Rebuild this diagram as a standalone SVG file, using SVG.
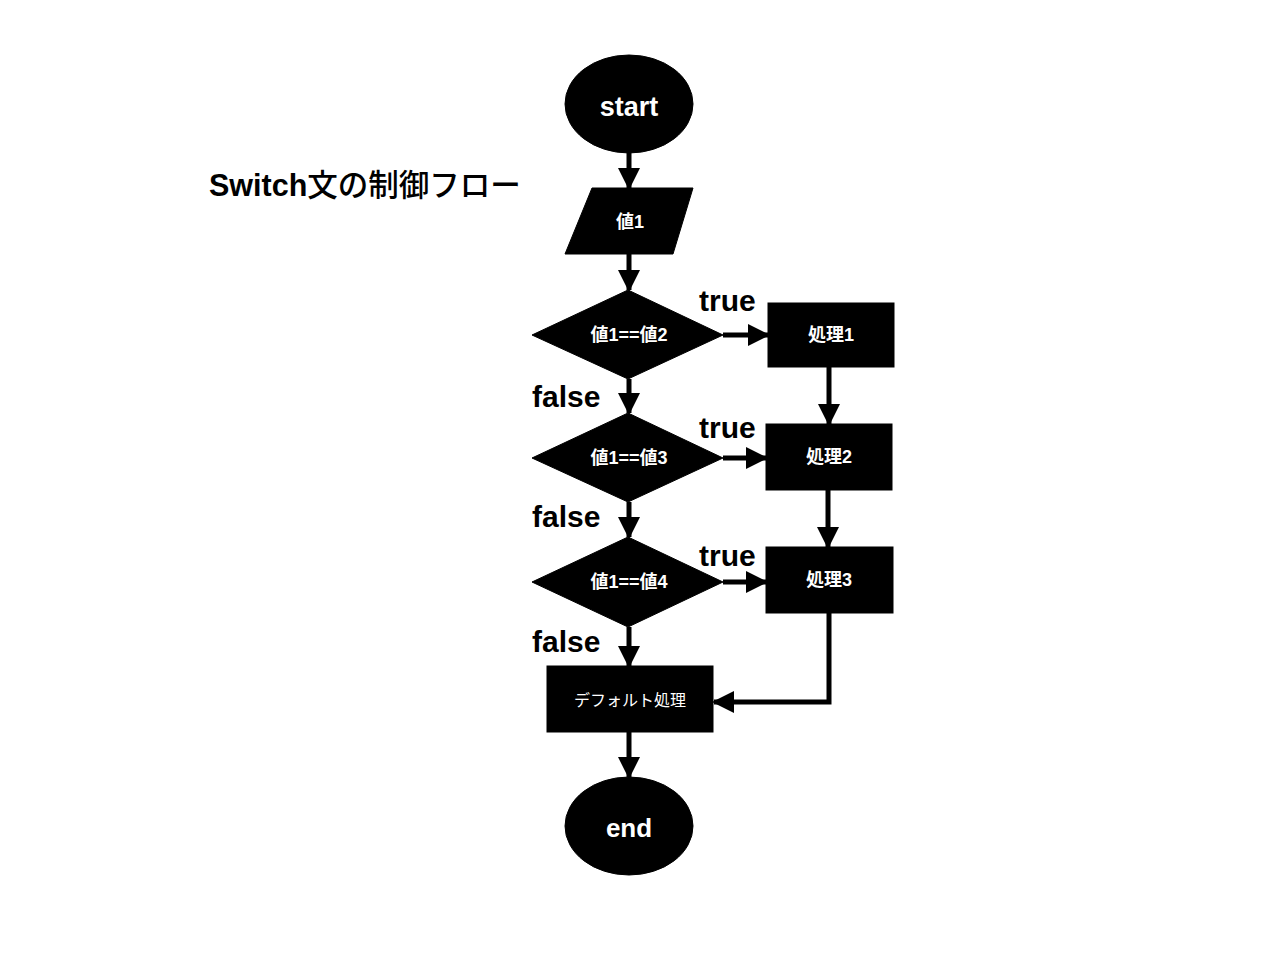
<svg xmlns="http://www.w3.org/2000/svg" width="1280" height="967" viewBox="0 0 1280 967">
<style>
.n{fill:#000;stroke:#000;stroke-width:1}
.t{fill:#fff;font-family:"Liberation Sans","Noto Sans CJK JP",sans-serif;font-weight:bold;text-anchor:middle;dominant-baseline:central}
.lbl{fill:#000;font-family:"Liberation Sans","Noto Sans CJK JP",sans-serif;font-weight:bold;font-size:30px}
.c{fill:none;stroke:#000;stroke-width:5;marker-end:url(#ah)}
</style>
<defs>
<marker id="ah" markerWidth="4.4" markerHeight="4.4" refX="4" refY="2.2" orient="auto" markerUnits="strokeWidth" viewBox="0 0 4.4 4.4">
<path d="M0,0 L4.4,2.2 L0,4.4 Z" fill="#000"/>
</marker>
</defs>
<rect width="1280" height="967" fill="#fff"/>
<text class="lbl" x="209" y="196" style="font-size:30.5px">Switch<tspan style="font-weight:500">文の制御フロー</tspan></text>
<g id="connectors">
<path class="c" d="M629,152 V188"/>
<path class="c" d="M629,254 V290"/>
<path class="c" d="M723,335 H768"/>
<path class="c" d="M829,367 V424"/>
<path class="c" d="M629,379 V413"/>
<path class="c" d="M723,458 H766"/>
<path class="c" d="M828,490 V547"/>
<path class="c" d="M629,502 V537"/>
<path class="c" d="M723,582 H766"/>
<path class="c" d="M629,627 V666"/>
<path class="c" d="M829,613 V702 H714"/>
<path class="c" d="M629,732 V777"/>
</g>
<g id="labels">
<text class="lbl" x="699" y="311">true</text>
<text class="lbl" x="699" y="438">true</text>
<text class="lbl" x="699" y="566">true</text>
<text class="lbl" x="532" y="407">false</text>
<text class="lbl" x="532" y="527">false</text>
<text class="lbl" x="532" y="652">false</text>
</g>
<g id="start"><ellipse class="n" cx="629" cy="104" rx="64" ry="49"/><text class="t" x="629" y="107" font-size="27">start</text></g>
<g id="input"><polygon class="n" points="592,188 693,188 673,254 565,254"/><text class="t" x="630" y="222" font-size="18">値1</text></g>
<g id="cond1"><polygon class="n" points="628,290 723,335 628,379 532,335"/><text class="t" x="629" y="335" font-size="18">値1==値2</text></g>
<g id="cond2"><polygon class="n" points="628,413 723,458 628,502 532,458"/><text class="t" x="629" y="458" font-size="18">値1==値3</text></g>
<g id="cond3"><polygon class="n" points="628,537 723,582 628,627 532,582"/><text class="t" x="629" y="582" font-size="18">値1==値4</text></g>
<g id="proc1"><rect class="n" x="768" y="303" width="126" height="64"/><text class="t" x="831" y="335" font-size="18">処理1</text></g>
<g id="proc2"><rect class="n" x="766" y="424" width="126" height="66"/><text class="t" x="829" y="457" font-size="18">処理2</text></g>
<g id="proc3"><rect class="n" x="766" y="547" width="127" height="66"/><text class="t" x="829" y="580" font-size="18">処理3</text></g>
<g id="default"><rect class="n" x="547" y="666" width="166" height="66"/><text class="t" x="630" y="700" font-size="16" style="font-weight:normal">デフォルト処理</text></g>
<g id="end"><ellipse class="n" cx="629" cy="826" rx="64" ry="49"/><text class="t" x="629" y="828" font-size="26">end</text></g>
</svg>
